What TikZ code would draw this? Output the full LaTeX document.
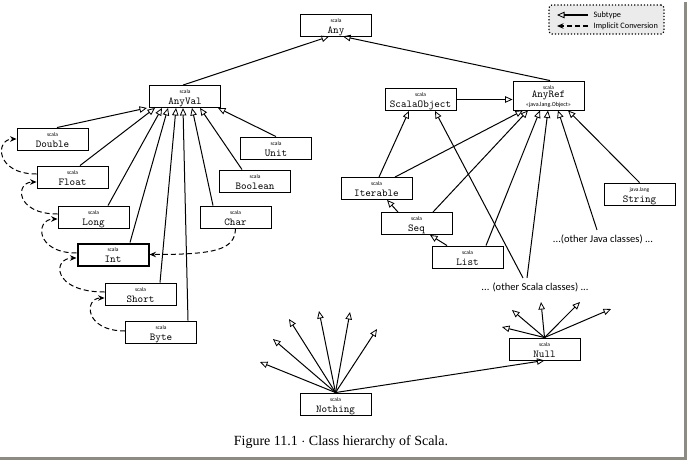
\documentclass[tikz,border=0pt]{standalone}
\usepackage{fontspec}
\setmainfont{Liberation Serif}
\setsansfont{Carlito}
\usetikzlibrary{arrows.meta,positioning,calc}
\definecolor{legendgray}{HTML}{EBEBEB}
\definecolor{shadowgray}{HTML}{8C8C84}

\begin{document}
\begin{tikzpicture}[x=1pt, y=-1pt, line width=1pt, >={Triangle[open,length=7.5pt,width=6.5pt,line width=0.8pt]}]
  \tikzstyle{box}=[draw, line width=0.9pt, minimum width=71pt, inner xsep=3pt, inner ysep=0pt, text height=19pt, text depth=3pt, font=\fontsize{10.6}{12}\ttfamily]
  \tikzstyle{pkg}=[label={[anchor=north, inner sep=0pt, yshift=-4.5pt, font=\fontsize{5.5}{6}\sffamily]north:#1}]
  \tikzstyle{sub}=[->]
  \tikzstyle{conv}=[-{Stealth[length=6.5pt,width=5.5pt]}, dash pattern=on 5pt off 3pt]
  \tikzstyle{note}=[font=\fontsize{10.5}{12}\sffamily, inner sep=0pt]
  \useasboundingbox (0,0) rectangle (688,461);

  \node[box, pkg=scala] (any) at (336,25) {Any};
  \node[box, pkg=scala] (anyval) at (185,96.5) {AnyVal};
  \node[box, pkg=scala, text height=16.5pt, text depth=12.5pt,
    label={[anchor=south, inner sep=0pt, yshift=2.5pt, font=\fontsize{6}{7}\sffamily]south:«java.lang.Object»}] (anyref) at (548.5,95.5) {AnyRef};
  \node[box, pkg=scala] (scalaobject) at (420.5,99.5) {ScalaObject};

  \node[box, pkg=scala] (double) at (52.5,139) {Double};
  \node[box, pkg=scala] (float) at (72.5,177) {Float};
  \node[box, pkg=scala] (long) at (93.5,217) {Long};
  \node[box, pkg=scala, line width=2pt] (int) at (113,254.5) {Int};
  \node[box, pkg=scala] (short) at (140.5,294) {Short};
  \node[box, pkg=scala] (byte) at (161,332) {Byte};
  \node[box, pkg=scala] (unit) at (276,148) {Unit};
  \node[box, pkg=scala] (boolean) at (255,181) {Boolean};
  \node[box, pkg=scala] (char) at (235.5,217) {Char};

  \node[box, pkg=scala] (iterable) at (376.5,188.5) {Iterable};
  \node[box, pkg=scala] (seq) at (416.5,223.5) {Seq};
  \node[box, pkg=scala] (list) at (467.5,257) {List};
  \node[box, pkg=java.lang] (string) at (639.5,194) {String};
  \node[note] (otherjava) at (603,239) {...(other Java classes) ...};
  \node[note] (otherscala) at (535,287) {... (other Scala classes) ...};

  \node[box, pkg=scala] (scalanull) at (544.5,349) {Null};
  \node[box, pkg=scala] (nothing) at (335.5,404) {Nothing};

  \draw[sub] ([xshift=-2pt]anyval.north) -- ([xshift=-7pt]any.south);
  \draw[sub] ([xshift=1.5pt]anyref.north) -- ([xshift=7pt]any.south);

  \draw[sub] ([xshift=4.5pt]double.north) -- ([xshift=-38pt]anyval.south);
  \draw[sub] ([xshift=7.5pt]float.north) -- ([xshift=-30pt]anyval.south);
  \draw[sub] ([xshift=14.5pt]long.north) -- ([xshift=-23pt]anyval.south);
  \draw[sub] ([xshift=17pt]int.north) -- ([xshift=-17pt]anyval.south);
  \draw[sub] ([xshift=19.5pt]short.north) -- ([xshift=-9pt]anyval.south);
  \draw[sub] ([xshift=27pt]byte.north) -- ([xshift=-2pt]anyval.south);
  \draw[sub] ([xshift=-22.5pt]char.north) -- ([xshift=7pt]anyval.south);
  \draw[sub] ([xshift=-13pt]boolean.north) -- ([xshift=15pt]anyval.south);
  \draw[sub] (unit.north) -- ([xshift=33pt]anyval.south);

  \draw[conv] ([yshift=3pt]float.west) .. controls (-5,174) and (-5,139) .. (double.west);
  \draw[conv] ([yshift=3pt]long.west) .. controls (15,214) and (15,182) .. ([yshift=-5pt]float.west);
  \draw[conv] ([yshift=1.5pt]int.west) .. controls (35,253) and (35,219) .. ([yshift=-2pt]long.west);
  \draw[conv] ([yshift=2pt]short.west) .. controls (52,292) and (52,258) .. ([yshift=-3.5pt]int.west);
  \draw[conv] ([yshift=1pt]byte.west) .. controls (84,331) and (84,298) .. ([yshift=-4pt]short.west);
  \draw[conv] (char.south) .. controls (235,250) and (215,254.5) .. (int.east);

  \draw[sub] (scalaobject.east) -- (anyref.west |- scalaobject.east);
  \draw[sub] ([xshift=2.5pt]iterable.north) -- ([xshift=-11.5pt]scalaobject.south);
  \draw[sub] ([xshift=18.5pt]iterable.north) -- ([xshift=-25.5pt]anyref.south);
  \draw[sub] ([xshift=-18.5pt]seq.north) -- ([xshift=10.5pt]iterable.south);
  \draw[sub] ([xshift=16.5pt]seq.north) -- ([xshift=-20.5pt]anyref.south);
  \draw[sub] ([xshift=-20.5pt]list.north) -- ([xshift=13.5pt]seq.south);
  \draw[sub] ([xshift=18.5pt]list.north) -- ([xshift=-8.5pt]anyref.south);
  \draw[sub] ([xshift=-12pt,yshift=4pt]otherscala.north) -- ([xshift=14.5pt]scalaobject.south);
  \draw[sub] ([xshift=-8pt,yshift=4pt]otherscala.north) -- ([xshift=-0.5pt]anyref.south);
  \draw[sub] ([xshift=-6pt,yshift=4pt]otherjava.north) -- ([xshift=9.5pt]anyref.south);
  \draw[sub] (string.north) -- ([xshift=19.5pt]anyref.south);

  \coordinate (nothing-a) at (260,362);
  \coordinate (nothing-b) at (273,339);
  \coordinate (nothing-c) at (289,319);
  \coordinate (nothing-d) at (319,311);
  \coordinate (nothing-e) at (350,312);
  \coordinate (nothing-f) at (377,329);
  \path (nothing.north) edge[sub] (nothing-a) edge[sub] (nothing-b) edge[sub] (nothing-c)
    edge[sub] (nothing-d) edge[sub] (nothing-e) edge[sub] (nothing-f);
  \draw[sub] (nothing.north) -- (scalanull.south);

  \coordinate (null-a) at (502,327);
  \coordinate (null-b) at (512,310);
  \coordinate (null-c) at (541,302);
  \coordinate (null-d) at (580,302);
  \coordinate (null-e) at (611,309);
  \path (scalanull.north) edge[sub] (null-a) edge[sub] (null-b) edge[sub] (null-c)
    edge[sub] (null-d) edge[sub] (null-e);

  \node[draw, dotted, line width=1.2pt, rounded corners=3pt, fill=legendgray, minimum width=115pt, minimum height=29pt] (legend) at (606.5,19.5) {};
  \node[font=\fontsize{8.3}{9}\sffamily, anchor=west, inner sep=0pt] (subtxt) at (593,15) {Subtype};
  \node[font=\fontsize{8.3}{9}\sffamily, anchor=west, inner sep=0pt] (convtxt) at (593,26) {Implicit Conversion};
  \coordinate[left=36pt of subtxt.west] (subend);
  \coordinate[left=36pt of convtxt.west] (convend);
  \draw[sub, line width=1.3pt] ([xshift=-5pt]subtxt.west) -- (subend);
  \draw[conv, line width=1.3pt] ([xshift=-5pt]convtxt.west) -- (convend);

  \node[font=\fontsize{14}{16}\selectfont, anchor=base] (caption) at (341,445) {Figure 11.1 $\cdot$ Class hierarchy of Scala.};

  \draw[shadowgray, line width=2.5pt] (0,458.5) -- (685.5,458.5) -- (685.5,2);
\end{tikzpicture}
\end{document}
